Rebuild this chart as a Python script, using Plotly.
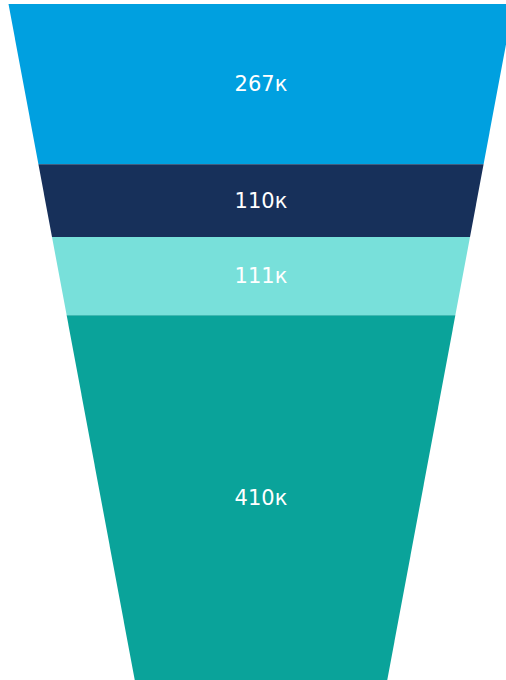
import plotly.graph_objects as go

stages = ["Stage 1", "Stage 2", "Stage 3", "Stage 4"]
values = [267, 110, 111, 410]
value_labels = ["267к", "110к", "111к", "410к"]
colors = ["#00A0E0", "#17305A", "#78E0DA", "#0AA39A"]

fig = go.Figure(go.Funnelarea(
    labels=stages,
    values=values,
    text=value_labels,
    textinfo="text",
    textposition="inside",
    insidetextfont=dict(family="DejaVu Sans", size=21, color="white"),
    marker=dict(colors=colors, line=dict(width=0)),
    aspectratio=1.3386,
    baseratio=0.5,
    showlegend=False,
    hoverinfo="label+value",
))

fig.update_layout(
    width=522,
    height=680,
    margin=dict(l=0, r=0, t=4, b=0),
    paper_bgcolor="white",
    plot_bgcolor="white",
    showlegend=False,
)

fig.write_html(
    "out.html",
    config={"displayModeBar": False},
    post_script=(
        "document.body.style.margin='0';"
        "document.body.style.overflow='hidden';"
        "document.documentElement.style.overflow='hidden';"
    ),
)
